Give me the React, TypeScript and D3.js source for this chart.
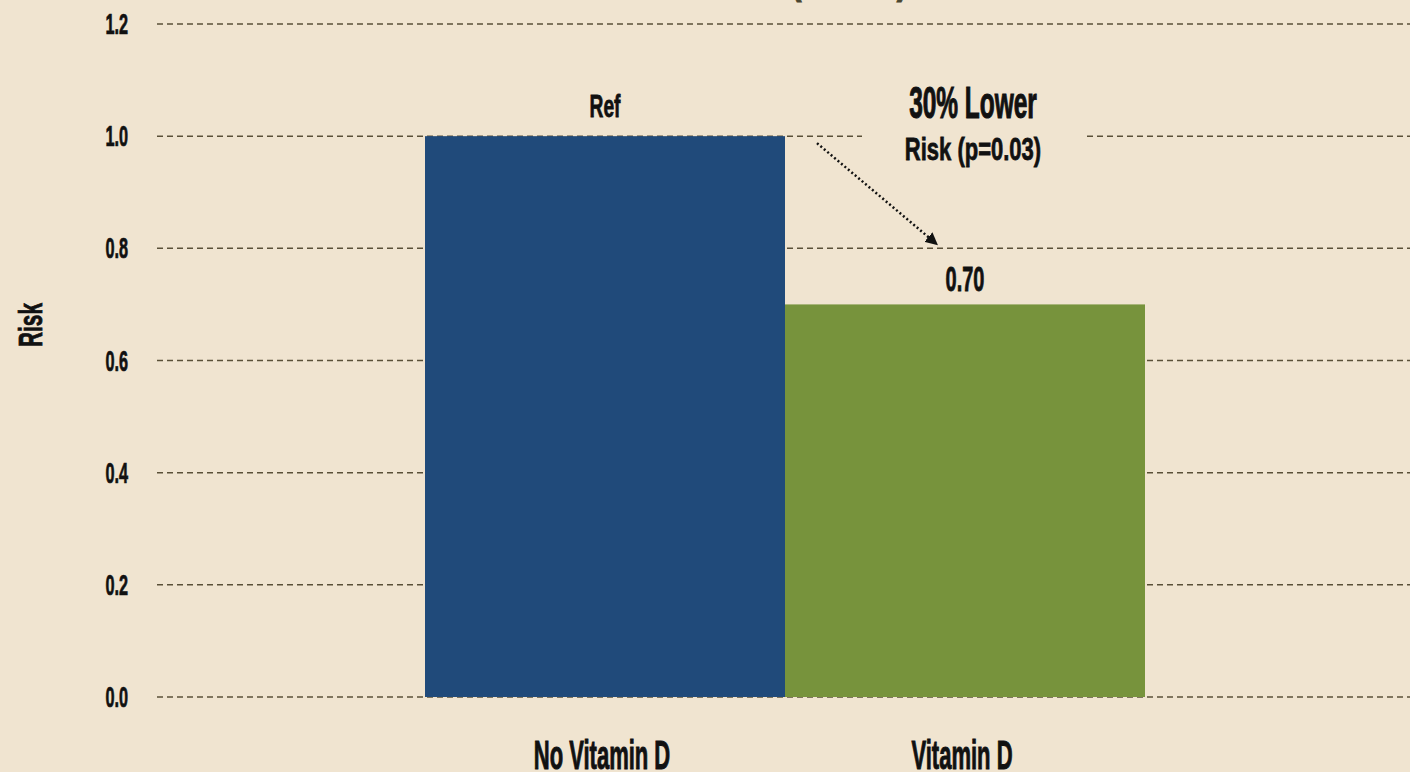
import * as d3 from "d3";

const W = 1410;
const H = 772;

const categories = ["No Vitamin D", "Vitamin D"];
const riskValues = [1.0, 0.7];
const barLabels = ["Ref", "0.70"];
const barColors = ["#204a7a", "#77933c"];
const yTicks = [0, 0.2, 0.4, 0.6, 0.8, 1.0, 1.2];
const noteLines = ["30% Lower", "Risk (p=0.03)"];

const bg = "#f0e4d0";
const gridColor = "#5a5038";
const font = "'Liberation Sans', Arial, sans-serif";

// condensed bold text: squeeze a regular bold face horizontally
function Label({ x, y, size, sx, anchor = "middle", rotate = 0, fill = "#111", children }: any) {
  return (
    <text
      transform={`translate(${x},${y}) rotate(${rotate}) scale(${sx},1)`}
      fontSize={size}
      fontWeight="bold"
      fontFamily={font}
      textAnchor={anchor}
      fill={fill}
      stroke={fill}
      strokeWidth={size * 0.025}
    >
      {children}
    </text>
  );
}

export default function App() {
  const margin = { left: 157, right: -3, top: 24, bottom: 75 };
  const plotL = margin.left;
  const plotR = W - margin.right;
  const cx = (plotL + plotR) / 2;

  const y = d3.scaleLinear().domain([0, 1.2]).range([H - margin.bottom, margin.top]);
  const x = d3.scaleBand().domain(categories).range([cx - 360, cx + 360]).padding(0);
  const bw = x.bandwidth();

  // annotation anchor points, from the scales
  const x0 = x(categories[0])!;
  const x1 = x(categories[1])!;
  const arrowStart = [x0 + bw + 32, y(1.0) + 7];
  const arrowEnd = [x1 + 152, y(0.8) - 4];
  const noteX = x1 + bw / 2 + 8;

  return (
    <svg
      width={W}
      height={H}
      style={{ position: "absolute", left: 0, top: 0, display: "block" }}
    >
      <defs>
        <marker id="arr" viewBox="0 0 10 10" refX="9" refY="5" markerWidth="5" markerHeight="5" orient="auto">
          <path d="M0,0 L10,5 L0,10 z" fill="#111" />
        </marker>
      </defs>
      <rect width={W} height={H} fill={bg} />

      {/* title, mostly above the frame */}
      <Label x={796} y={-8} size={46} sx={0.7} fill="#4a4530">(</Label>
      <Label x={902} y={-8} size={46} sx={0.7} fill="#4a4530">)</Label>

      {/* grid */}
      {yTicks.map((t) => (
        <line
          key={t}
          x1={plotL}
          x2={plotR}
          y1={y(t)}
          y2={y(t)}
          stroke={gridColor}
          strokeWidth={1.5}
          strokeDasharray="6,4"
        />
      ))}

      {/* y tick labels */}
      {yTicks.map((t) => (
        <Label key={t} x={128} y={y(t) + 10} size={29} sx={0.56} anchor="end">
          {d3.format(".1f")(t)}
        </Label>
      ))}

      <Label x={42} y={325} size={33} sx={0.63} rotate={-90}>Risk</Label>

      {/* bars */}
      {categories.map((c, i) => (
        <rect key={c} x={x(c)} y={y(riskValues[i])} width={bw} height={y(0) - y(riskValues[i])} fill={barColors[i]} />
      ))}

      {/* bar value labels */}
      <Label x={x0 + bw / 2} y={y(riskValues[0]) - 19} size={31} sx={0.62}>{barLabels[0]}</Label>
      <Label x={x1 + bw / 2} y={y(riskValues[1]) - 13} size={35} sx={0.57}>{barLabels[1]}</Label>

      {/* x labels */}
      {categories.map((c) => (
        <Label key={c} x={x(c)! + bw / 2 - 3} y={769} size={40} sx={0.55}>{c}</Label>
      ))}

      {/* annotation */}
      <rect x={noteX - 111} y={78} width={223} height={95} fill={bg} />
      <Label x={noteX} y={118} size={44} sx={0.556}>{noteLines[0]}</Label>
      <Label x={noteX} y={160} size={31} sx={0.71}>{noteLines[1]}</Label>
      <line
        x1={arrowStart[0]}
        y1={arrowStart[1]}
        x2={arrowEnd[0]}
        y2={arrowEnd[1]}
        stroke="#111"
        strokeWidth={2.5}
        strokeDasharray="2,2.5"
        markerEnd="url(#arr)"
      />
    </svg>
  );
}
